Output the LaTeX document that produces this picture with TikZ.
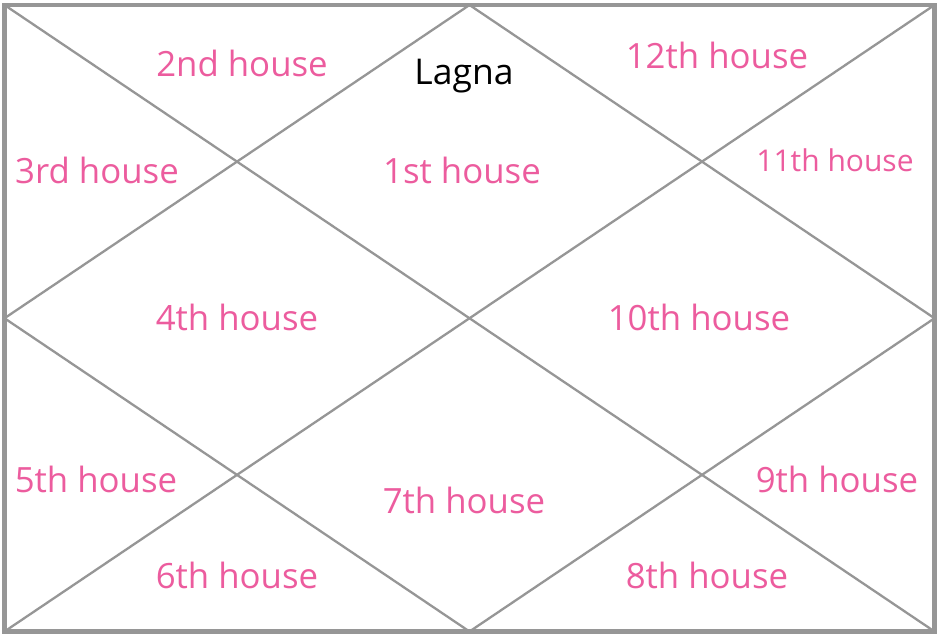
\documentclass[tikz,border=0pt]{standalone}
\usepackage{fontspec}
\setmainfont{Open Sans}
\usepackage{xcolor}
\usetikzlibrary{calc}
\definecolor{housepink}{RGB}{236, 92, 158}
\definecolor{linegray}{RGB}{150, 150, 150}
\tikzset{
  house/.style={text=housepink, font=\fontsize{34.8}{40}\selectfont, inner sep=0pt},
  frameline/.style={draw=linegray, line width=4.5pt},
  chartline/.style={draw=linegray, line width=2.3pt}
}

\begin{document}
\begin{tikzpicture}[x=1pt, y=-1pt]
  \useasboundingbox (0,0) rectangle (938,635);
  % Corners and midpoints of the chart
  \coordinate (TL) at (4.5,5);
  \coordinate (TR) at (934.5,5);
  \coordinate (BR) at (934.5,631.5);
  \coordinate (BL) at (4.5,631.5);
  \coordinate (T) at ($(TL)!0.5!(TR)$);
  \coordinate (R) at ($(TR)!0.5!(BR)$);
  \coordinate (B) at ($(BL)!0.5!(BR)$);
  \coordinate (L) at ($(TL)!0.5!(BL)$);

  % Diagonals and inner diamond
  \draw[chartline] (TL) -- (BR);
  \draw[chartline] (TR) -- (BL);
  \draw[chartline] (T) -- (R) -- (B) -- (L) -- cycle;
  % Outer frame
  \draw[frameline] (TL) rectangle (BR);

  % House labels
  \node[inner sep=0pt, font=\fontsize{35.5}{40}\selectfont] (lagna) at (464,76) {Lagna};
  \node[house] (h1) at (462,170) {1st house};
  \node[house] (h2) at (242,63) {2nd house};
  \node[house] (h3) at (97,170) {3rd house};
  \node[house] (h4) at (237,317) {4th house};
  \node[house] (h5) at (96,479) {5th house};
  \node[house] (h6) at (237,575) {6th house};
  \node[house] (h7) at (464,500) {7th house};
  \node[house] (h8) at (707,575) {8th house};
  \node[house] (h9) at (837,479) {9th house};
  \node[house] (h10) at (699,317) {10th house};
  \node[house, font=\fontsize{30}{34}\selectfont] (h11) at (835,160) {11th house};
  \node[house] (h12) at (717,55) {12th house};
\end{tikzpicture}
\end{document}
